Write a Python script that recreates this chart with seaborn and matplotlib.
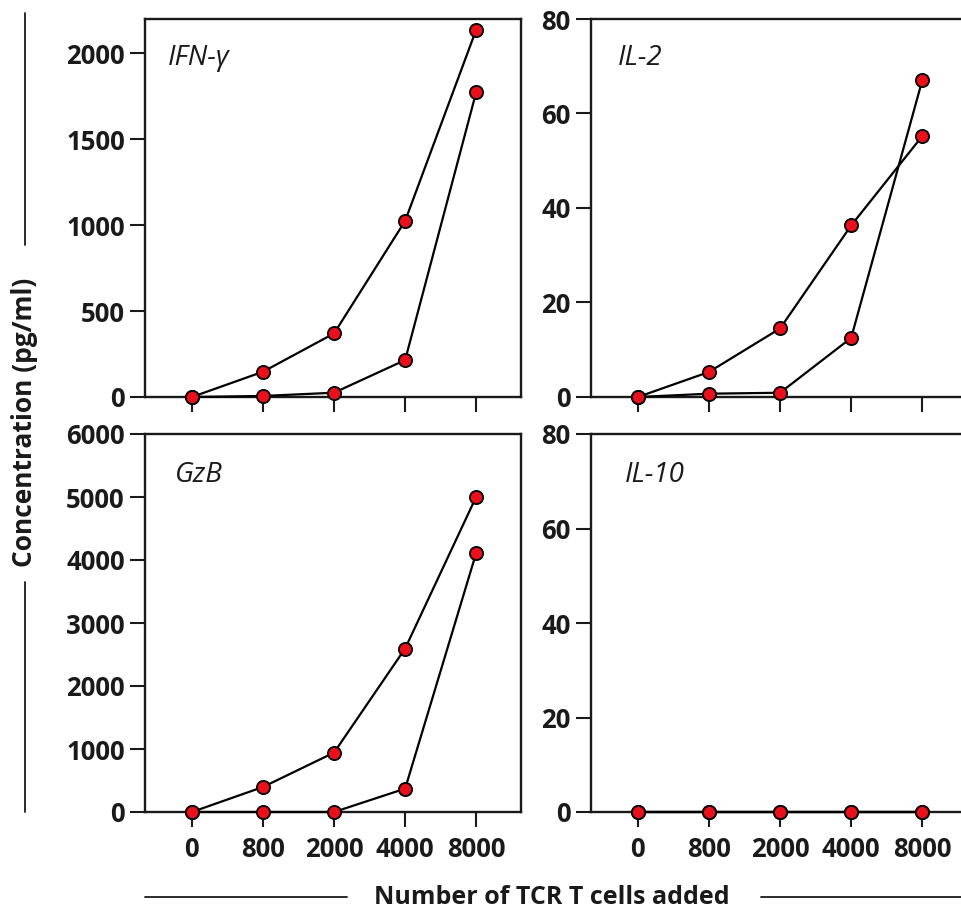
import matplotlib
matplotlib.use('Agg')
import matplotlib.pyplot as plt
import seaborn as sns
from matplotlib.lines import Line2D

cells = ['0', '800', '2000', '4000', '8000']
panels = ['IFN-γ', 'IL-2', 'GzB', 'IL-10']

ifng_a = [0, 147, 370, 1025, 2138]
ifng_b = [0, 6, 25, 215, 1775]
il2_a = [0, 5.3, 14.5, 36.3, 55.2]
il2_b = [0, 0.7, 0.9, 12.5, 67.0]
gzb_a = [0, 397, 943, 2595, 5004]
gzb_b = [0, 0, 0, 371, 4114]
il10_a = [0, 0, 0, 0, 0]
il10_b = [0, 0, 0, 0, 0]

series = [(ifng_a, ifng_b), (il2_a, il2_b), (gzb_a, gzb_b), (il10_a, il10_b)]
ylims = [(0, 2200), (0, 80), (0, 6000), (0, 80)]
yticks = [[0, 500, 1000, 1500, 2000], [0, 20, 40, 60, 80],
          [0, 1000, 2000, 3000, 4000, 5000, 6000], [0, 20, 40, 60, 80]]

sns.set_style('white')
plt.rcParams['font.family'] = ['Open Sans', 'DejaVu Sans']

fig = plt.figure(figsize=(9.61, 9.09), dpi=100)
W, H = 961, 909
boxes = [(145, 19), (591, 19), (145, 434), (591, 434)]
title_pos = [(0.061, 0.878), (0.072, 0.878), (0.08, 0.874), (0.09, 0.874)]
red = '#e8101a'

for i, (x0, y0) in enumerate(boxes):
    ax = fig.add_axes([x0 / W, 1 - (y0 + 378) / H, 376 / W, 378 / H])
    pos = list(range(len(cells)))
    for s in series[i]:
        sns.lineplot(x=pos, y=s, ax=ax, color='black', linewidth=1.6,
                     marker='o', markersize=9.5, markerfacecolor=red,
                     markeredgecolor='black', markeredgewidth=1.3,
                     clip_on=False, zorder=5)
    ax.set_xlim(-0.66, 4.63)
    ax.set_ylim(*ylims[i])
    ax.set_yticks(yticks[i])
    ax.set_xticks(pos)
    if i >= 2:
        ax.set_xticklabels(cells)
    else:
        ax.set_xticklabels([])
    for sp in ax.spines.values():
        sp.set_linewidth(1.7)
        sp.set_color('#1a1a1a')
    ax.tick_params(axis='both', direction='out', length=10.5, width=1.5,
                   color='#1a1a1a', labelsize=18.5, pad=4, left=True, bottom=True)
    ax.tick_params(axis='x', pad=7)
    for lab in ax.get_xticklabels() + ax.get_yticklabels():
        lab.set_fontweight('bold')
        lab.set_color('#1a1a1a')
    tx, ty = title_pos[i]
    ax.text(tx, ty, panels[i], transform=ax.transAxes, fontsize=20,
            fontstyle='italic', color='#1a1a1a', va='baseline', ha='left')

fig.text(25 / W, 1 - 422 / H, 'Concentration (pg/ml)', rotation=90,
         ha='center', va='center', fontsize=19, fontweight='bold', color='#1a1a1a')
fig.text(552 / W, 1 - 897 / H, 'Number of TCR T cells added',
         ha='center', va='center', fontsize=18, fontweight='bold', color='#1a1a1a')

for xs, ys in [((25, 25), (13, 245)), ((25, 25), (582, 812)),
               ((145, 347), (897, 897)), ((761, 961), (897, 897))]:
    fig.add_artist(Line2D([x / W for x in xs], [1 - y / H for y in ys],
                          color='#1a1a1a', linewidth=1.3))

plt.savefig('out.png', dpi=100)
plt.close()
